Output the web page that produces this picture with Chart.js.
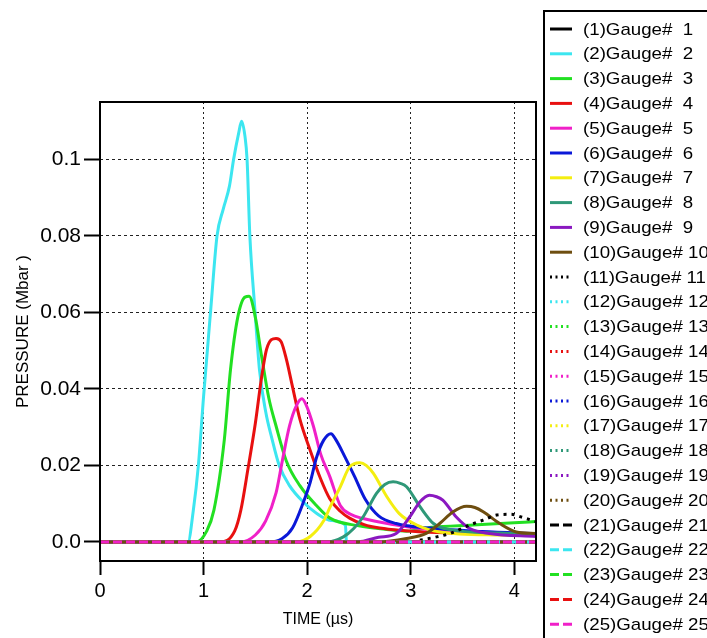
<!DOCTYPE html>
<html>
<head>
<meta charset="utf-8">
<script src="https://cdn.jsdelivr.net/npm/chart.js@4/dist/chart.umd.min.js"></script>
<style>
html,body{margin:0;padding:0;background:#fff;}
#wrap{width:707px;height:638px;}
</style>
</head>
<body>
<div id="wrap"><canvas id="gaugeChart" width="707" height="638"></canvas></div>
<script>

/* labels and ticks */

const gaugeNames = [
"(1)Gauge#  1","(2)Gauge#  2","(3)Gauge#  3","(4)Gauge#  4","(5)Gauge#  5",
"(6)Gauge#  6","(7)Gauge#  7","(8)Gauge#  8","(9)Gauge#  9","(10)Gauge# 10",
"(11)Gauge# 11","(12)Gauge# 12","(13)Gauge# 13","(14)Gauge# 14","(15)Gauge# 15",
"(16)Gauge# 16","(17)Gauge# 17","(18)Gauge# 18","(19)Gauge# 19","(20)Gauge# 20",
"(21)Gauge# 21","(22)Gauge# 22","(23)Gauge# 23","(24)Gauge# 24","(25)Gauge# 25"
];

const xTicks = [0, 1, 2, 3, 4];
const yTicks = [0, 0.02, 0.04, 0.06, 0.08, 0.1];
const yTickLabels = ["0.0", "0.02", "0.04", "0.06", "0.08", "0.1"];

/* gauge data: time (µs) and pressure (Mbar) */

const zeroTime = [0, 4.21];
const zeroPres = [0, 0];

const time2 = [0, 0.85, 0.9, 0.95, 1.0, 1.07, 1.13, 1.19, 1.25, 1.29, 1.34, 1.367, 1.40, 1.42, 1.447, 1.495, 1.54, 1.60, 1.66, 1.73, 1.83, 1.96, 2.09, 2.23, 2.37, 2.38, 4.21];
const pres2 = [0, 0, 0.008, 0.02, 0.038, 0.061, 0.08, 0.087, 0.093, 0.1, 0.107, 0.110, 0.106, 0.10, 0.08, 0.061, 0.045, 0.034, 0.027, 0.02, 0.0147, 0.0105, 0.0075, 0.0056, 0.0044, 0, 0];

const time3 = [0, 0.93, 1.03, 1.10, 1.20, 1.26, 1.33, 1.40, 1.44, 1.50, 1.56, 1.63, 1.70, 1.80, 1.93, 2.09, 2.22, 2.50, 2.75, 2.96, 3.2, 3.6, 4.0, 4.21];
const pres3 = [0, 0, 0.0028, 0.0083, 0.0266, 0.045, 0.0587, 0.064, 0.0642, 0.0587, 0.0486, 0.0376, 0.0303, 0.0211, 0.0147, 0.0095, 0.0062, 0.0042, 0.0033, 0.0028, 0.0038, 0.0044, 0.005, 0.0053];

const time4 = [0, 1.16, 1.30, 1.36, 1.43, 1.50, 1.56, 1.61, 1.70, 1.75, 1.80, 1.86, 1.93, 2.03, 2.13, 2.22, 2.32, 2.41, 2.55, 2.70, 3.18, 3.69, 4.21];
const pres4 = [0, 0, 0.0028, 0.0083, 0.0193, 0.031, 0.043, 0.0505, 0.0532, 0.0523, 0.0477, 0.0404, 0.0321, 0.0239, 0.0165, 0.0112, 0.008, 0.0062, 0.0045, 0.0036, 0.0025, 0.0022, 0.002];

const time5 = [0, 1.36, 1.50, 1.60, 1.70, 1.76, 1.83, 1.90, 1.95, 1.99, 2.06, 2.13, 2.22, 2.32, 2.42, 2.54, 2.86, 3.18, 3.6, 4.21];
const pres5 = [0, 0, 0.0018, 0.0055, 0.0128, 0.0211, 0.0303, 0.0358, 0.0374, 0.0358, 0.0303, 0.023, 0.017, 0.0095, 0.0072, 0.0061, 0.0044, 0.0032, 0.0025, 0.0022];

const time6 = [0, 1.63, 1.76, 1.86, 1.96, 2.03, 2.09, 2.16, 2.23, 2.28, 2.36, 2.46, 2.56, 2.69, 2.86, 3.19, 3.69, 4.21];
const pres6 = [0, 0, 0.0009, 0.0037, 0.0101, 0.0156, 0.022, 0.0266, 0.0283, 0.0266, 0.0225, 0.017, 0.0112, 0.0068, 0.0048, 0.0036, 0.0027, 0.0022];

const time7 = [0, 1.9, 2.03, 2.16, 2.22, 2.32, 2.41, 2.51, 2.57, 2.64, 2.77, 2.89, 3.06, 3.28, 3.86, 4.21];
const pres7 = [0, 0, 0.0014, 0.0055, 0.009, 0.0144, 0.0196, 0.0207, 0.02, 0.0179, 0.0118, 0.0074, 0.0044, 0.0026, 0.0018, 0.0017];

const time8 = [0, 2.2, 2.35, 2.45, 2.54, 2.67, 2.75, 2.83, 2.90, 2.96, 3.09, 3.22, 3.38, 3.86, 4.21];
const pres8 = [0, 0, 0.0013, 0.0035, 0.0065, 0.0127, 0.015, 0.0157, 0.0153, 0.0144, 0.0092, 0.0048, 0.0032, 0.0023, 0.002];

const time9 = [0, 2.49, 2.69, 2.86, 2.99, 3.09, 3.18, 3.25, 3.31, 3.44, 3.57, 3.76, 4.21];
const pres9 = [0, 0, 0.0012, 0.0022, 0.0065, 0.0105, 0.0122, 0.0118, 0.0109, 0.0065, 0.0035, 0.0022, 0.0014];

const time10 = [0, 2.69, 2.96, 3.15, 3.28, 3.41, 3.54, 3.62, 3.70, 3.86, 4.02, 4.21];
const pres10 = [0, 0, 0.0009, 0.0022, 0.0048, 0.0079, 0.0093, 0.009, 0.0079, 0.0048, 0.0026, 0.0022];

const time11 = [0, 3.0, 3.1, 3.25, 3.38, 3.57, 3.70, 3.83, 3.97, 4.08, 4.21];
const pres11 = [0, 0, 0.0005, 0.0013, 0.0022, 0.0044, 0.0057, 0.007, 0.0072, 0.0064, 0.0053];

const gaugeTimes = [zeroTime, time2, time3, time4, time5, time6, time7, time8, time9, time10, time11,
  zeroTime, zeroTime, zeroTime, zeroTime, zeroTime, zeroTime, zeroTime, zeroTime, zeroTime,
  zeroTime, zeroTime, zeroTime, zeroTime, zeroTime];
const gaugePres = [zeroPres, pres2, pres3, pres4, pres5, pres6, pres7, pres8, pres9, pres10, pres11,
  zeroPres, zeroPres, zeroPres, zeroPres, zeroPres, zeroPres, zeroPres, zeroPres, zeroPres,
  zeroPres, zeroPres, zeroPres, zeroPres, zeroPres];

/* styles */

const lineColors = ["#000000", "#3ce6f0", "#22e022", "#e81010", "#f020c8", "#0a18d8", "#f4ee10", "#2f9878", "#8a18c0", "#6e4e10"];
const fontFamily = '"Liberation Sans", Arial, sans-serif';

function dashFor(i) {
  if (i < 10) return [];
  if (i < 20) return [3, 5];
  return [9, 4];
}

let datasets = gaugeNames.map((name, i) => ({
  label: name,
  data: gaugeTimes[i].map((t, k) => ({x: t, y: gaugePres[i][k]})),
  borderColor: lineColors[i % 10],
  borderWidth: 3,
  borderDash: dashFor(i),
  pointRadius: 0,
  cubicInterpolationMode: "monotone",
  fill: false,
  order: -i
}));


/* frame + legend box */

const frameAndLegend = {
  id: "frameAndLegend",
  beforeDraw(chart) {
    const ctx = chart.ctx;
    ctx.save();
    ctx.fillStyle = "#fff";
    ctx.fillRect(0, 0, chart.width, chart.height);
    ctx.restore();
  },
  afterDatasetsDraw(chart) {
    const ctx = chart.ctx;
    const a = chart.chartArea;
    ctx.save();
    ctx.strokeStyle = "#000";
    ctx.lineWidth = 2;
    ctx.strokeRect(a.left, a.top, a.right - a.left, a.bottom - a.top);
    ctx.restore();
  },
  afterDraw(chart) {
    const ctx = chart.ctx;
    ctx.save();
    ctx.strokeStyle = "#000";
    ctx.lineWidth = 2;
    ctx.strokeRect(544, 11, 220, 700);
    ctx.font = "17px " + fontFamily;
    ctx.textBaseline = "middle";
    ctx.fillStyle = "#000";
    chart.data.datasets.forEach((ds, i) => {
      const y = 29 + i * 24.8;
      ctx.strokeStyle = ds.borderColor;
      ctx.lineWidth = 3;
      ctx.setLineDash(i < 10 ? [] : (i < 20 ? [2, 3.5] : [9, 4]));
      ctx.beginPath();
      ctx.moveTo(550, y);
      ctx.lineTo(572, y);
      ctx.stroke();
      ctx.setLineDash([]);
      // reference text is a bit wider than the font
      ctx.save();
      ctx.translate(583, y + 1);
      ctx.scale(1.1, 1);
      ctx.fillText(ds.label, 0, 0);
      ctx.restore();
    });
    ctx.restore();
  }
};


/* chart */

new Chart(document.getElementById("gaugeChart"), {

type: "line",

data: {datasets: datasets},

options: {
  responsive: false,
  animation: false,
  devicePixelRatio: 1,
  layout: {padding: {top: 102, right: 171, left: 0, bottom: 0}},
  plugins: {legend: {display: false}, tooltip: {enabled: false}},
  scales: {
    x: {
      type: "linear",
      min: 0,
      max: 4.21,
      afterBuildTicks: s => { s.ticks = xTicks.map(v => ({value: v})); },
      afterFit: s => { s.height = 77; },
      ticks: {autoSkip: false, maxRotation: 0, color: "#000", padding: 4, font: {size: 20, family: fontFamily}, callback: v => String(v)},
      grid: {color: "#222", lineWidth: 1, tickLength: 14, tickWidth: 2, tickColor: "#000", tickBorderDash: []},
      border: {display: false, dash: [2, 3]},
      title: {display: true, text: "TIME (µs)", color: "#000", font: {size: 16, family: fontFamily}, padding: {top: 0, bottom: 9}}
    },
    y: {
      type: "linear",
      min: -0.005,
      max: 0.115,
      afterBuildTicks: s => { s.ticks = yTicks.map(v => ({value: v})); },
      afterFit: s => { s.width = 100; },
      ticks: {autoSkip: false, color: "#000", padding: 3, font: {size: 21, family: fontFamily}, callback: (v, i) => yTickLabels[i]},
      grid: {color: "#222", lineWidth: 1, tickLength: 16, tickWidth: 2, tickColor: "#000", tickBorderDash: []},
      border: {display: false, dash: [3, 3]},
      title: {display: true, text: "PRESSURE (Mbar )", color: "#000", font: {size: 17, family: fontFamily}, padding: {top: 13, bottom: 0}}
    }
  }
},

plugins: [frameAndLegend]

});

</script>
</body>
</html>
